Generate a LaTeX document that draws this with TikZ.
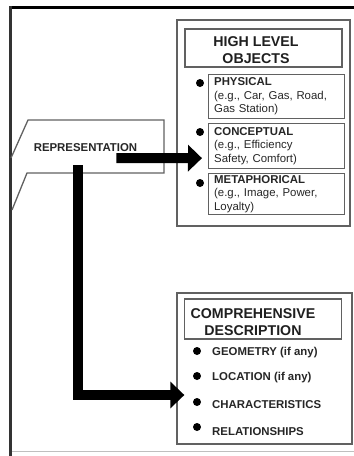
\documentclass[tikz,border=0pt]{standalone}
\usepackage{fontspec}
\setmainfont{Liberation Sans}
\usetikzlibrary{positioning,arrows.meta,calc}
\tikzset{
  boxline/.style={draw=black!62,line width=1.3pt},
  outerbox/.style={rectangle,boxline,inner sep=0pt},
  titlebox/.style={rectangle,boxline,inner sep=0pt,minimum width=157pt},
  titletext/.style={align=center,inner sep=0pt,text=black!88,
    font=\fontsize{14.2}{16.6}\selectfont\bfseries},
  kindbox/.style={rectangle,boxline,anchor=north west,minimum width=135pt,
    text width=125pt,inner xsep=5.5pt,inner ysep=0pt,align=left,text=black!85,
    font=\fontsize{11.4}{13.5}\selectfont},
  bullet/.style={circle,fill=black,inner sep=0pt,minimum size=8pt},
  itemtext/.style={anchor=west,inner sep=0pt,text=black!85,
    font=\fontsize{11.4}{13}\selectfont\bfseries},
  fatarrow/.style={-{Triangle[length=14pt,width=26pt]},line width=10pt},
}
\begin{document}
\begin{tikzpicture}[x=1pt,y=-1pt]
  \useasboundingbox (0,0) rectangle (354,456);
  % page frame
  \draw[line width=3pt] (9,7.5) -- (354,7.5);
  \draw[black!80,line width=2.5pt] (10.5,6) -- (10.5,456);
  \draw[black!25,line width=1pt] (12,451.5) -- (354,451.5);

  % representation card
  \draw[boxline] (11,158) -- (28,120) -- (164,120) -- (164,173) -- (27,173) -- (12,210);
  \node[itemtext,anchor=center] (rep) at (85.5,148) {REPRESENTATION};

  % high level objects
  \node[outerbox,minimum width=173pt,minimum height=206pt] (hlo) at (263.5,123) {};
  \node[titlebox,minimum height=38pt] (hlottl) at (263.5,48) {};
  \node[titletext] at (256,50) {HIGH LEVEL\\OBJECTS};
  \node[kindbox,minimum height=44pt] (phys) at (208,74)
    {\textbf{PHYSICAL}\\(e.g., Car, Gas, Road,\\Gas Station)};
  \node[kindbox,minimum height=45pt] (conc) at (208,123)
    {\textbf{CONCEPTUAL}\\(e.g., Efficiency\\Safety, Comfort)};
  \node[kindbox,minimum height=41pt] (meta) at (208,173)
    {\textbf{METAPHORICAL}\\(e.g., Image, Power,\\Loyalty)};
  \node[bullet] at ($(phys.north west)+(-8,9)$) {};
  \node[bullet] at ($(conc.north west)+(-8,9)$) {};
  \node[bullet] at ($(meta.north west)+(-8,10)$) {};

  % comprehensive description
  \node[outerbox,minimum width=175pt,minimum height=151pt] (cd) at (264.5,368.5) {};
  \node[titlebox,minimum height=40pt] (cdttl) at (263,319) {};
  \node[titletext] at (253,322) {COMPREHENSIVE\\DESCRIPTION};
  \node[bullet] (b1) at (197,351) {};
  \node[bullet] (b2) at (197,376) {};
  \node[bullet] (b3) at (197,402) {};
  \node[bullet] (b4) at (197,427) {};
  \node[itemtext] at (212,353) {GEOMETRY (if any)};
  \node[itemtext] at (212,378) {LOCATION (if any)};
  \node[itemtext] at (212,405) {CHARACTERISTICS};
  \node[itemtext] at (212,432) {RELATIONSHIPS};

  % arrows
  \coordinate (repout) at ($(rep.east)+(-21,10)$);
  \coordinate (repdown) at ($(rep.south)+(-7.5,13)$);
  \draw[fatarrow] (repout) -- ($(conc.west)+(-6,12)$);
  \draw[fatarrow] (repdown) |- ($(cd.west)+(8,26.5)$);
\end{tikzpicture}
\end{document}
